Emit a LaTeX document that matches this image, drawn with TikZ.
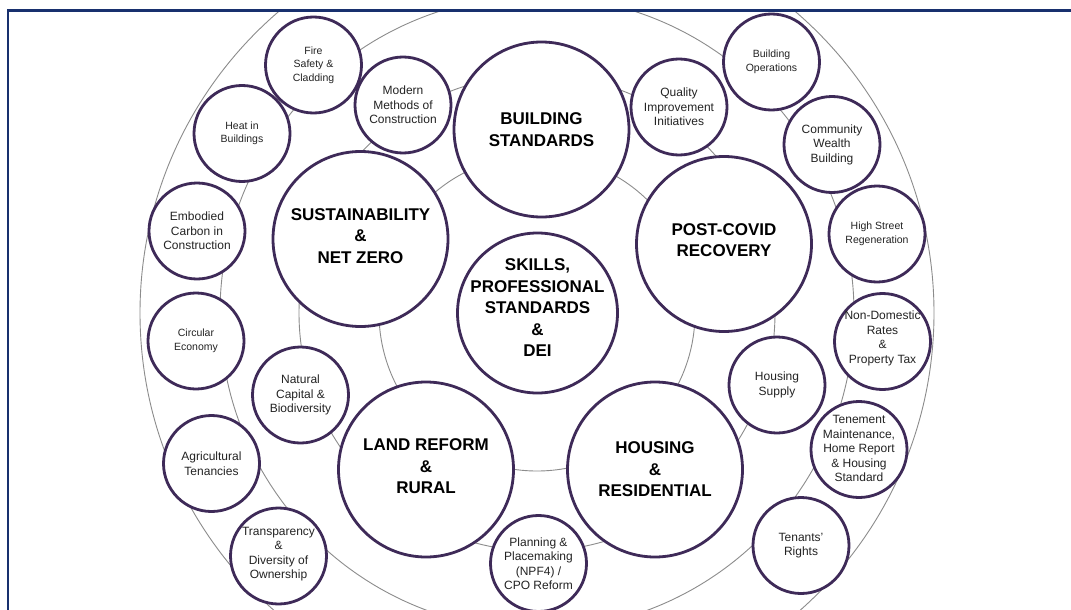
\documentclass[tikz,border=0pt]{standalone}
\usepackage{fontspec}
\setmainfont{Liberation Sans}
\definecolor{bubblec}{RGB}{62,42,88}
\definecolor{ringc}{RGB}{140,140,140}
\definecolor{framec}{RGB}{24,48,110}
\definecolor{txtc}{RGB}{35,35,35}
\tikzset{
 ring/.style={draw=ringc, line width=0.9pt},
 bubble/.style={circle, draw=bubblec, line width=2.8pt, fill=white, inner sep=0pt, outer sep=0pt},
 sbub/.style={bubble, minimum size=96pt},
 bbub/.style={bubble, minimum size=175pt},
 stxt/.style={align=center, text=txtc, font=\fontsize{12}{14.5}\selectfont, inner sep=0pt},
 xtxt/.style={align=center, text=txtc, font=\fontsize{10.5}{13.5}\selectfont, inner sep=0pt},
 btxt/.style={align=center, text=black, font=\bfseries\fontsize{17}{21.5}\selectfont, inner sep=0pt},
}
\begin{document}
\begin{tikzpicture}[x=1pt,y=-1pt]
\useasboundingbox (0,0) rectangle (1071,610);
\fill[white] (0,0) rectangle (1071,610);
\begin{scope}
\clip (8,11) rectangle (1071,610);
\coordinate (c) at (537,313);
\draw[ring] (c) circle[radius=158pt];
\draw[ring] (c) circle[radius=238pt];
\draw[ring] (c) circle[radius=317pt];
\draw[ring] (c) circle[radius=397pt];
% big bubbles
\node[bbub] (bs) at (541.5,129.5) {};
\node[bbub] (sus) at (360.5,239) {};
\node[bbub] (pc) at (724,244) {};
\node[bubble, minimum size=160pt] (sk) at (537.5,313) {};
\node[bbub] (lr) at (426,469.5) {};
\node[bbub] (hr) at (655,469.5) {};
% inner small bubbles
\node[sbub] (mmc) at (403,105) {};
\node[sbub] (qii) at (679,107) {};
\node[sbub] (nc) at (300.5,395) {};
\node[sbub] (hs) at (777,385) {};
\node[sbub] (pl) at (538.5,563.5) {};
% outer small bubbles
\node[sbub] (fire) at (313.5,65) {};
\node[sbub] (heat) at (242,133.5) {};
\node[sbub] (emb) at (197,231) {};
\node[sbub] (circ) at (196,341) {};
\node[sbub] (agri) at (211.5,463.5) {};
\node[sbub] (tran) at (278.5,556) {};
\node[sbub] (bops) at (771.5,62) {};
\node[sbub] (cwb) at (832,144.5) {};
\node[sbub] (hsr) at (877,234) {};
\node[sbub] (ndr) at (882.5,341.5) {};
\node[sbub] (ten) at (859,449.5) {};
\node[sbub] (trr) at (801,545.5) {};
% texts
\node[btxt] (bst) at (bs) {BUILDING\\STANDARDS};
\node[btxt] (sust) at ([yshift=3]sus.center) {SUSTAINABILITY\\\&\\NET ZERO};
\node[btxt] (pct) at ([yshift=4]pc.center) {POST-COVID\\RECOVERY};
\node[btxt] (skt) at ([yshift=5]sk.center) {SKILLS,\\PROFESSIONAL\\STANDARDS\\\&\\DEI};
\node[btxt] (lrt) at ([yshift=3]lr.center) {LAND REFORM\\\&\\RURAL};
\node[btxt] (hrt) at (hr) {HOUSING\\\&\\RESIDENTIAL};
\node[stxt] (mmct) at (mmc) {Modern\\Methods of\\Construction};
\node[stxt] (qiit) at (qii) {Quality\\Improvement\\Initiatives};
\node[stxt] (nct) at (nc) {Natural\\Capital \&\\Biodiversity};
\node[stxt] (hst) at (hs) {Housing\\Supply};
\node[stxt] (plt) at (pl) {Planning \&\\Placemaking\\(NPF4) /\\CPO Reform};
\node[xtxt] (firet) at (fire) {Fire\\Safety \&\\Cladding};
\node[xtxt] (heatt) at (heat) {Heat in\\Buildings};
\node[stxt] (embt) at (emb) {Embodied\\Carbon in\\Construction};
\node[xtxt] (circt) at (circ) {Circular\\Economy};
\node[stxt] (agrit) at (agri) {Agricultural\\Tenancies};
\node[stxt] (trant) at ([yshift=2]tran.center) {Transparency\\\&\\Diversity of\\Ownership};
\node[xtxt] (bopst) at (bops) {Building\\Operations};
\node[stxt] (cwbt) at (cwb) {Community\\Wealth\\Building};
\node[xtxt] (hsrt) at (hsr) {High Street\\Regeneration};
\node[stxt] (ndrt) at ([yshift=3]ndr.center) {Non-Domestic\\Rates\\\&\\Property Tax};
\node[stxt] (tent) at ([yshift=1]ten.center) {Tenement\\Maintenance,\\Home Report\\\& Housing\\Standard};
\node[stxt] (trrt) at (trr) {Tenants’\\Rights};
\end{scope}
\draw[framec, line width=2.5pt] (7.8,610) -- (7.8,10.5) -- (1071,10.5);
\end{tikzpicture}
\end{document}
